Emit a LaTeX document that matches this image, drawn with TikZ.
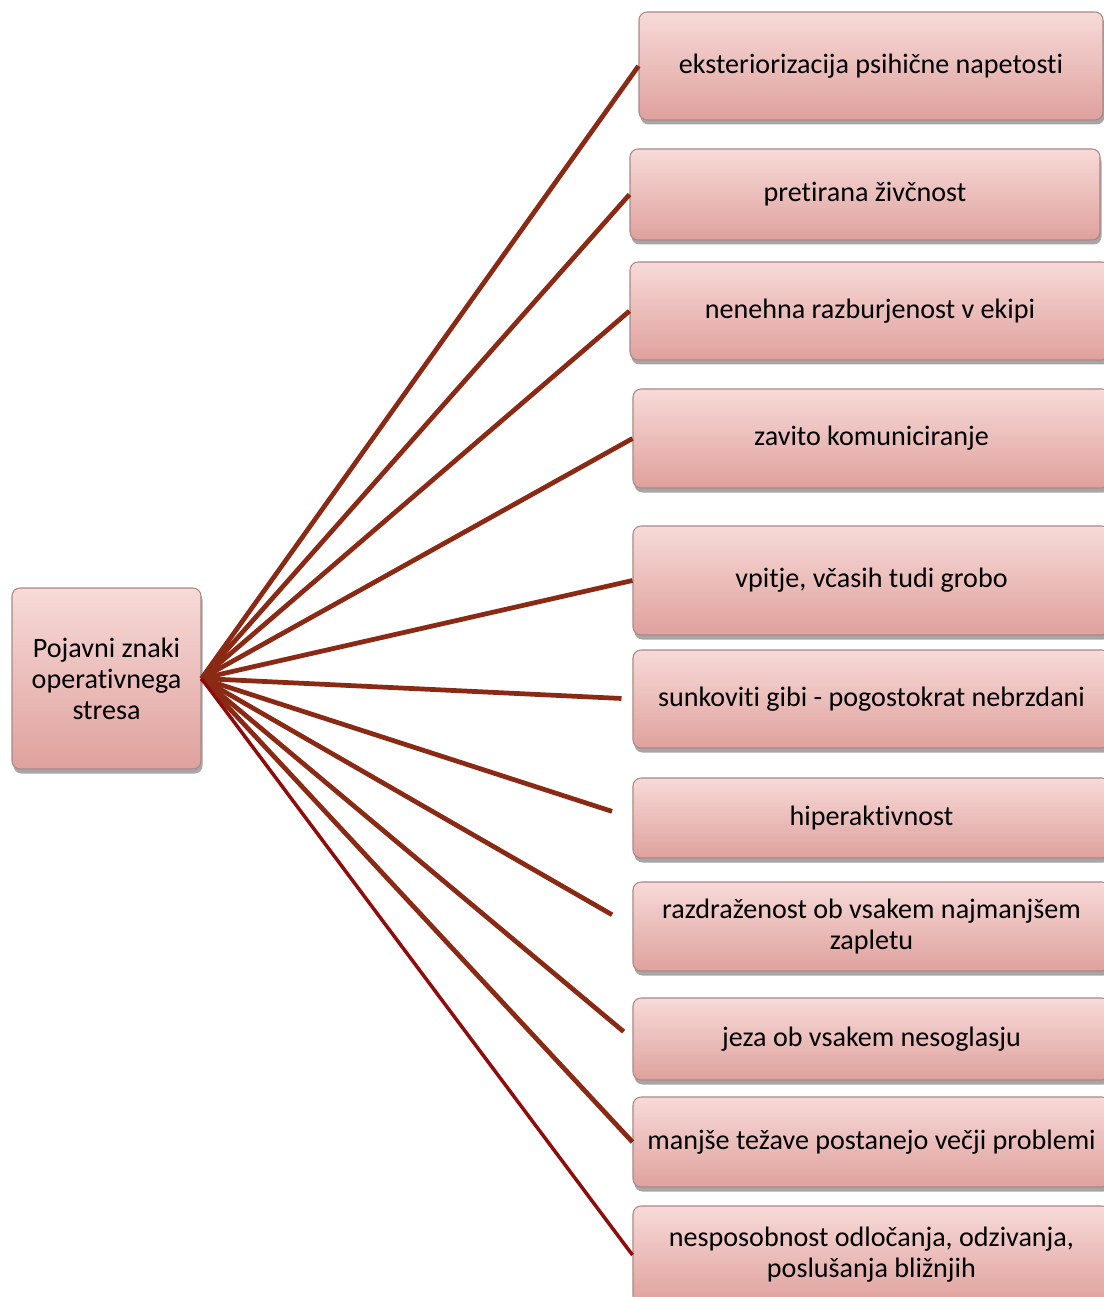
\documentclass[tikz,border=0pt]{standalone}
\usepackage{fontspec}
\setmainfont{Carlito}[Ligatures={NoCommon}]
\usepackage{xcolor}
\usetikzlibrary{shadows}

\definecolor{boxtop}{HTML}{F7DAD8}
\definecolor{boxbot}{HTML}{DFA19D}
\definecolor{boxline}{HTML}{A88886}
\definecolor{linkred}{HTML}{8A2A14}
\definecolor{linkdark}{HTML}{900C0C}

\tikzset{
  sign/.style={draw=boxline, line width=0.6pt, rounded corners=0.16cm,
    top color=boxtop, bottom color=boxbot, inner sep=0pt, align=center,
    font=\fontsize{16pt}{17.6pt}\selectfont,
    drop shadow={shadow xshift=0.03cm, shadow yshift=-0.09cm, opacity=0.35, fill=black}},
  link/.style={draw=linkred, line width=2.7pt}
}

\begin{document}
\begin{tikzpicture}[x=0.02cm, y=-0.02cm]
  \clip (0,0) rectangle (1104,1297);
  \node[sign, minimum width=189*0.02cm, minimum height=181*0.02cm] (hub) at (106.5,678.5)
    {Pojavni znaki\\operativnega\\stresa};
  \foreach \i/\x/\y/\w/\h/\t in {
      1/871/66/464/108/{eksteriorizacija psihične napetosti},
      2/865/194.5/470/91/{pretirana živčnost},
      3/870/311/480/98/{nenehna razburjenost v ekipi},
      4/871.5/438.5/477/99/{zavito komuniciranje},
      5/871.5/580.5/477/109/{vpitje, včasih tudi grobo},
      6/871.5/699/477/98/{sunkoviti gibi - pogostokrat nebrzdani},
      7/871.5/818/477/80/{hiperaktivnost},
      8/871.5/926.5/477/89/{razdraženost ob vsakem najmanjšem\\zapletu},
      9/871.5/1039/477/82/{jeza ob vsakem nesoglasju},
      10/871.5/1142/477/90/{manjše težave postanejo večji problemi},
      11/871.5/1255/477/98/{nesposobnost odločanja, odzivanja,\\poslušanja bližnjih}} {
    \node[sign, minimum width=\w*0.02cm, minimum height=\h*0.02cm] (b\i) at (\x,\y) {\t};
  }
  % spokes
  \foreach \i/\s in {1/0, 2/0, 3/0, 4/0, 5/0, 6/0.22, 7/0.43, 8/0.47, 9/0.23, 10/0} {
    \draw[link, shorten >=\s cm] (hub.east) -- (b\i.west);
  }
  \draw[link, draw=linkdark, line width=2pt] (hub.east) -- (b11.west);
\end{tikzpicture}
\end{document}
